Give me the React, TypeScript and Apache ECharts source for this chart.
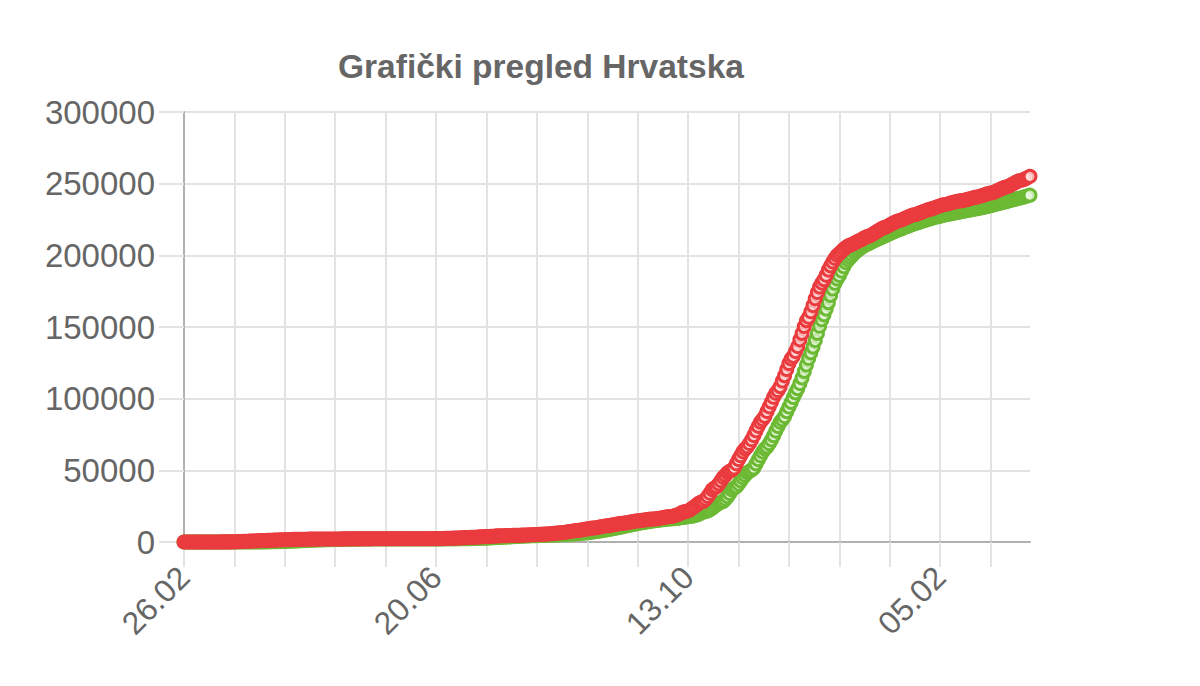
import React, { useEffect, useRef } from "react";
import * as echarts from "echarts";

// Cumulative confirmed cases (red), one value per day starting 26.02.2020
const confirmedFebMar2020 = [3, 3, 5, 6, 7, 9, 9, 10, 11, 12, 12, 12, 12, 13, 14, 27, 32, 38,
  49, 57, 65, 81, 105, 128, 206, 254, 315, 382, 442, 495, 586, 657, 713, 790, 867];
const confirmedApr2020 = [963, 1011, 1079, 1126, 1182, 1222, 1282, 1343, 1407, 1495, 1534, 1600, 1650, 1704, 1741,
  1791, 1814, 1832, 1871, 1881, 1908, 1950, 1981, 2009, 2016, 2030, 2039, 2047, 2062, 2076];
const confirmedMay2020 = [2085, 2088, 2096, 2101, 2112, 2119, 2125, 2146, 2161, 2176, 2187, 2196, 2207, 2213, 2221,
  2224, 2226, 2228, 2228, 2232, 2234, 2237, 2240, 2243, 2244, 2244, 2244, 2245, 2245, 2246, 2246];
const confirmedJun2020 = [2247, 2247, 2247, 2247, 2247, 2247, 2247, 2249, 2249, 2249, 2252, 2252, 2254, 2258, 2269,
  2280, 2299, 2317, 2336, 2366, 2388, 2405, 2438, 2483, 2542, 2585, 2634, 2691, 2725, 2777];
const confirmedJul2020 = [2831, 2912, 3008, 3094, 3151, 3220, 3272, 3325, 3416, 3532, 3672, 3722, 3775, 3826, 3938,
  4039, 4161, 4255, 4298, 4345, 4370, 4422, 4494, 4547, 4587, 4634, 4660, 4708, 4764, 4822, 4881];
const confirmedAug2020 = [4947, 5000, 5073, 5138, 5221, 5299, 5376, 5466, 5547, 5637, 5709, 5838, 5978, 6161, 6319,
  6475, 6616, 6798, 7094, 7285, 7526, 7786, 7969, 8103, 8338, 8588, 8883, 9143, 9374, 9643, 9764];
const confirmedSep2020 = [9963, 10227, 10521, 10816, 11094, 11339, 11428, 11739, 12039, 12285, 12626, 12917, 13069, 13170, 13368,
  13749, 14029, 14316, 14585, 14749, 14838, 15082, 15326, 15572, 15781, 15952, 16030, 16118, 16390, 16593];
const confirmedOct2020 = [16840, 17160, 17440, 17660, 17800, 17960, 18450, 18990, 19450, 20440, 20990, 21210, 21740, 22530, 23660,
  24760, 25970, 27160, 27850, 28290, 29850, 31720, 33960, 36380, 37740, 38620, 40510, 42710, 44930, 46600, 48370];
const confirmedNov2020 = [49320, 50260, 51620, 54560, 57520, 60180, 62900, 64920, 66400, 68690, 71300, 74310, 77540, 80710, 83580,
  85410, 87600, 91010, 94280, 97520, 100930, 103750, 105690, 108360, 112310, 116050, 120330, 124500, 127690, 129530];
const confirmedDec2020 = [132850, 136310, 141030, 145540, 150360, 154430, 156810, 160650, 164930, 169720, 174050, 177880, 180630, 182990, 186060,
  189700, 192600, 195300, 197800, 199900, 201300, 202700, 204200, 205500, 206600, 207200, 207800, 208600, 209400, 210100, 210840];
const confirmedJan2021 = [211850, 212650, 213220, 213640, 214500, 215600, 216520, 217500, 218450, 219140, 219550, 220280, 221100, 222080, 222800,
  223610, 224160, 224490, 225100, 225840, 226510, 227210, 227880, 228310, 228560, 229120, 229750, 230370, 230900, 231540, 232060];
const confirmedFeb2021 = [232380, 232850, 233520, 234100, 234590, 235080, 235440, 235660, 236160, 236630, 237050, 237400, 237720, 237940,
  238050, 238400, 238830, 239240, 239670, 240090, 240440, 240620, 241160, 241600, 242080, 242650, 243160, 243520];
const confirmedMar2021 = [243700, 244300, 245100, 245800, 246500, 247200, 247700, 248100, 248800, 249700, 250500, 251300, 252000, 252400,
  252800, 253500, 254300, 255100];

// Cumulative recovered (green)
const recoveredFebMar2020 = [0, 0, 0, 0, 0, 0, 0, 0, 0, 0, 0, 0, 1, 1, 1, 1, 1, 1,
  1, 1, 1, 1, 5, 5, 5, 5, 5, 5, 20, 22, 28, 32, 42, 52, 67];
const recoveredApr2020 = [73, 79, 85, 104, 125, 152, 186, 208, 262, 300, 340, 394, 433, 519, 580,
  641, 708, 758, 851, 912, 1001, 1089, 1153, 1206, 1264, 1335, 1384, 1418, 1483, 1531];
const recoveredMay2020 = [1578, 1596, 1632, 1683, 1735, 1800, 1839, 1870, 1892, 1912, 1936, 1955, 1975, 2000, 2015,
  2034, 2045, 2056, 2066, 2070, 2078, 2085, 2090, 2097, 2101, 2106, 2111, 2115, 2120, 2125, 2130];
const recoveredJun2020 = [2132, 2135, 2137, 2139, 2140, 2142, 2143, 2144, 2146, 2147, 2148, 2149, 2150, 2152, 2153,
  2155, 2157, 2158, 2160, 2162, 2164, 2166, 2169, 2173, 2178, 2183, 2190, 2199, 2210, 2222];
const recoveredJul2020 = [2240, 2262, 2287, 2318, 2351, 2385, 2423, 2466, 2510, 2558, 2612, 2670, 2730, 2795, 2865,
  2940, 3015, 3095, 3175, 3260, 3345, 3430, 3520, 3605, 3690, 3775, 3860, 3940, 4020, 4090, 4160];
const recoveredAug2020 = [4220, 4280, 4330, 4380, 4430, 4480, 4530, 4580, 4630, 4690, 4750, 4810, 4870, 4940, 5010,
  5090, 5170, 5250, 5340, 5430, 5530, 5640, 5760, 5890, 6030, 6180, 6340, 6510, 6690, 6880, 7080];
const recoveredSep2020 = [7290, 7510, 7740, 7980, 8230, 8490, 8760, 9040, 9330, 9630, 9940, 10260, 10590, 10920, 11250,
  11580, 11900, 12220, 12530, 12830, 13120, 13400, 13670, 13930, 14180, 14420, 14650, 14870, 15080, 15280];
const recoveredOct2020 = [15450, 15650, 15820, 15980, 16120, 16230, 16340, 16480, 16700, 16900, 17150, 17420, 17640, 17790, 17950,
  18400, 18900, 19400, 20300, 20900, 21200, 21700, 22500, 23600, 24700, 25900, 27100, 27800, 28300, 29800, 31600];
const recoveredNov2020 = [33800, 36200, 37600, 38500, 40400, 42600, 44800, 46500, 48300, 49300, 50200, 51600, 54500, 57400, 60100,
  62800, 64800, 66300, 68600, 71200, 74200, 77400, 80600, 83500, 85300, 87500, 90900, 94200, 97400, 100800];
const recoveredDec2020 = [104000, 107000, 110500, 114500, 119000, 123500, 128000, 132000, 136000, 140500, 145500, 150500, 155000, 158500, 162500,
  167000, 172000, 176500, 180500, 183500, 186000, 189000, 192000, 194800, 196800, 198500, 200100, 201700, 203000, 204200, 205300];
const recoveredJan2021 = [206300, 207150, 207900, 208650, 209450, 210200, 210850, 211500, 212250, 212950, 213600, 214350, 215100, 215800, 216450,
  217100, 217650, 218250, 218900, 219550, 220100, 220700, 221350, 221850, 222300, 222800, 223350, 223850, 224300, 224800, 225250];
const recoveredFeb2021 = [225700, 226150, 226550, 226900, 227300, 227750, 228100, 228400, 228700, 229050, 229350, 229600, 229900, 230250,
  230500, 230800, 231150, 231400, 231700, 232050, 232300, 232550, 232900, 233250, 233500, 233850, 234200, 234600];
const recoveredMar2021 = [235000, 235450, 235800, 236200, 236650, 237000, 237350, 237800, 238250, 238600, 239000, 239450, 239800, 240150,
  240600, 241050, 241500, 242000];

const confirmed = [
  ...confirmedFebMar2020, ...confirmedApr2020, ...confirmedMay2020, ...confirmedJun2020, ...confirmedJul2020,
  ...confirmedAug2020, ...confirmedSep2020, ...confirmedOct2020, ...confirmedNov2020, ...confirmedDec2020,
  ...confirmedJan2021, ...confirmedFeb2021, ...confirmedMar2021,
];
const recovered = [
  ...recoveredFebMar2020, ...recoveredApr2020, ...recoveredMay2020, ...recoveredJun2020, ...recoveredJul2020,
  ...recoveredAug2020, ...recoveredSep2020, ...recoveredOct2020, ...recoveredNov2020, ...recoveredDec2020,
  ...recoveredJan2021, ...recoveredFeb2021, ...recoveredMar2021,
];

// Category labels: consecutive days from 26.02.2020
const START_DAY = Date.UTC(2020, 1, 26);
const dayLabels = confirmed.map((_, i) => {
  const d = new Date(START_DAY + i * 86400000);
  const dd = String(d.getUTCDate()).padStart(2, "0");
  const mm = String(d.getUTCMonth() + 1).padStart(2, "0");
  return `${dd}.${mm}`;
});

const yTicks = { min: 0, max: 300000, interval: 50000 };
const TITLE = "Grafički pregled Hrvatska";

const FONT = "'Liberation Sans', Arial, Helvetica, sans-serif";
const RED = "#ea3b3f";
const GREEN = "#6cb934";
const GRID = "#e3e3e3";
const AXIS = "#b0b0b0";

export default function App() {
  const ref = useRef<HTMLDivElement>(null);
  useEffect(() => {
    if (!ref.current) return;
    const chart = echarts.init(ref.current, undefined, { renderer: "svg" });
    chart.setOption({
      animation: false,
      title: {
        text: TITLE,
        left: 333,
        top: 44,
        textStyle: { fontFamily: FONT, fontSize: 33.5, fontWeight: "bold", color: "#666" },
      },
      grid: { left: 184, right: 170, top: 112, bottom: 144 },
      xAxis: {
        type: "category",
        data: dayLabels,
        boundaryGap: false,
        axisLine: { lineStyle: { color: AXIS, width: 2 } },
        axisTick: { interval: 22, length: 25, lineStyle: { color: GRID, width: 2 } },
        splitLine: { show: true, interval: 22, lineStyle: { color: GRID, width: 2 } },
        axisLabel: { interval: 114, rotate: 45, margin: 30, fontSize: 32, color: "#666", fontFamily: FONT },
      },
      yAxis: {
        type: "value",
        min: yTicks.min,
        max: yTicks.max,
        interval: yTicks.interval,
        axisLine: { show: true, lineStyle: { color: AXIS, width: 2 } },
        axisTick: { show: true, length: 25, lineStyle: { color: GRID, width: 2 } },
        splitLine: { lineStyle: { color: GRID, width: 2 } },
        axisLabel: {
          margin: 29,
          fontSize: 33,
          color: "#666",
          fontFamily: FONT,
          formatter: (v: number) => String(v),
        },
      },
      series: [
        {
          name: "Oporavljeni",
          type: "line",
          data: recovered,
          symbol: "circle",
          symbolSize: 12,
          showAllSymbol: true,
          lineStyle: { color: GREEN, width: 4 },
          itemStyle: { color: "rgba(235,250,225,0.7)", borderColor: GREEN, borderWidth: 3 },
        },
        {
          name: "Zaraženi",
          type: "line",
          data: confirmed,
          symbol: "circle",
          symbolSize: 12,
          showAllSymbol: true,
          lineStyle: { color: RED, width: 4 },
          itemStyle: { color: "rgba(255,225,225,0.7)", borderColor: RED, borderWidth: 3 },
        },
      ],
    });
    return () => chart.dispose();
  }, []);
  return (
    <div
      ref={ref}
      style={{ position: "fixed", left: 0, top: 0, width: 1200, height: 686, background: "#fff" }}
    />
  );
}
